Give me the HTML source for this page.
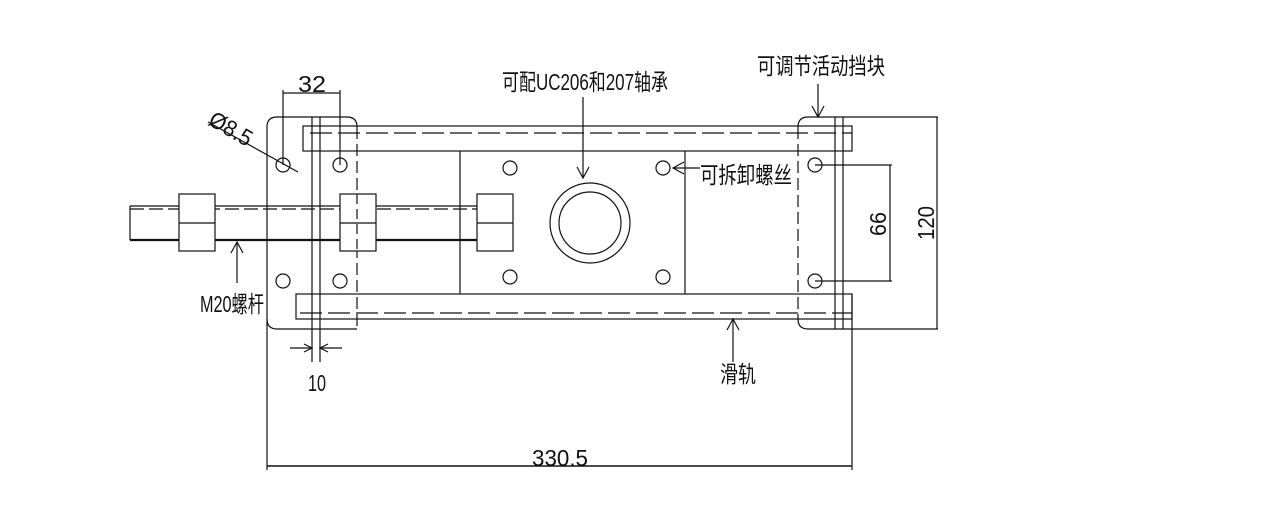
<!DOCTYPE html>
<html><head><meta charset="utf-8"><style>
html,body{margin:0;padding:0;background:#fff;}
svg{display:block;}
text{font-family:"Liberation Sans","Noto Sans CJK SC",sans-serif;fill:#111;}
</style></head><body>
<svg width="1264" height="519" viewBox="0 0 1264 519" xmlns="http://www.w3.org/2000/svg">
<g stroke="#111" stroke-width="1.2" fill="none">
<path d="M357,329 H277 Q267,329 267,319 V127 Q267,117 277,117 H347 Q357,117 357,127"/>
<line x1="357" y1="127" x2="357" y2="329" stroke-dasharray="12,5"/>
<line x1="267" y1="319" x2="267" y2="470"/>
<line x1="312" y1="117" x2="312" y2="362"/>
<line x1="320" y1="117" x2="320" y2="362"/>
<rect x="303" y="126" width="549" height="25"/>
<line x1="310" y1="133" x2="852" y2="133" stroke-dasharray="22,6"/>
<rect x="296" y="294" width="556" height="25"/>
<line x1="300" y1="313" x2="852" y2="313" stroke-dasharray="22,6"/>
<line x1="460" y1="151" x2="460" y2="294"/>
<line x1="685" y1="151" x2="685" y2="294"/>
<line x1="130" y1="206" x2="477" y2="206"/>
<line x1="130" y1="209" x2="477" y2="209" stroke-dasharray="14,5"/>
<line x1="130" y1="240" x2="477" y2="240" stroke-width="2.2"/>
<line x1="130" y1="206" x2="130" y2="240"/>
<rect x="179" y="194" width="36" height="57" fill="#fff"/>
<line x1="179" y1="223" x2="215" y2="223"/>
<rect x="340" y="194" width="36" height="57" fill="#fff"/>
<line x1="340" y1="223" x2="376" y2="223"/>
<line x1="357" y1="194" x2="357" y2="251" stroke-dasharray="10,5"/>
<rect x="477" y="194" width="36" height="57" fill="#fff"/>
<line x1="477" y1="223" x2="513" y2="223"/>
<circle cx="283" cy="165" r="7"/><circle cx="340" cy="165" r="7"/>
<circle cx="283" cy="281" r="7"/><circle cx="340" cy="281" r="7"/>
<circle cx="510" cy="168" r="7"/><circle cx="510" cy="277" r="7"/>
<circle cx="663" cy="168" r="7"/><circle cx="663" cy="277" r="7"/>
<circle cx="815" cy="165" r="7"/><circle cx="815" cy="281" r="7"/>
<circle cx="590" cy="223" r="40"/><circle cx="590" cy="223" r="31"/>
<path d="M798,127 Q798,117 808,117 H938"/>
<path d="M798,319 Q798,329 808,329 H938"/>
<line x1="798" y1="127" x2="798" y2="319" stroke-dasharray="12,5"/>
<line x1="835" y1="117" x2="835" y2="329"/>
<line x1="843" y1="117" x2="843" y2="329"/>
<line x1="852" y1="294" x2="852" y2="470"/>
<line x1="815" y1="165" x2="892" y2="165"/>
<line x1="815" y1="281" x2="892" y2="281"/>
<line x1="890" y1="165" x2="890" y2="281"/>
<line x1="937" y1="117" x2="937" y2="329"/>
<line x1="283" y1="90" x2="283" y2="165"/>
<line x1="340" y1="90" x2="340" y2="165"/>
<line x1="283" y1="93" x2="340" y2="93"/>
<line x1="267" y1="466" x2="852" y2="466" stroke-width="1.6"/>
<line x1="208" y1="122" x2="298" y2="172"/>
<line x1="290" y1="348" x2="312" y2="348"/><path d="M304,344 L312,348 L304,352"/>
<line x1="342" y1="348" x2="320" y2="348"/><path d="M328,344 L320,348 L328,352"/>
<line x1="818" y1="84" x2="818" y2="117"/><path d="M812,106 L818,117 L824,106"/>
<line x1="583" y1="97" x2="583" y2="178"/><path d="M577,167 L583,178 L589,167"/>
<line x1="700" y1="168" x2="673" y2="168"/><path d="M684,162 L673,168 L684,174"/>
<line x1="733" y1="362" x2="733" y2="319"/><path d="M727,330 L733,319 L739,330"/>
<line x1="237" y1="283" x2="237" y2="242"/><path d="M231,253 L237,242 L243,253"/>
</g>
<g font-size="23">
<text x="757" y="74" textLength="128" lengthAdjust="spacingAndGlyphs">可调节活动挡块</text>
<text x="502" y="90" textLength="166" lengthAdjust="spacingAndGlyphs">可配UC206和207轴承</text>
<text x="700" y="183" textLength="92" lengthAdjust="spacingAndGlyphs">可拆卸螺丝</text>
<text x="720" y="382" textLength="36" lengthAdjust="spacingAndGlyphs">滑轨</text>
<text x="200" y="312" textLength="64" lengthAdjust="spacingAndGlyphs">M20螺杆</text>
<text x="308" y="391" textLength="18" lengthAdjust="spacingAndGlyphs">10</text>
<text x="532" y="466" textLength="56" lengthAdjust="spacingAndGlyphs">330.5</text>
<text x="298" y="92" textLength="28" lengthAdjust="spacingAndGlyphs">32</text>
<text transform="translate(886,236) rotate(-90)" textLength="24" lengthAdjust="spacingAndGlyphs">66</text>
<text transform="translate(934,240) rotate(-90)" textLength="34" lengthAdjust="spacingAndGlyphs">120</text>
<text transform="translate(207,124) rotate(30)" textLength="46" lengthAdjust="spacingAndGlyphs">Ø8.5</text>
</g>
</svg>
</body></html>
